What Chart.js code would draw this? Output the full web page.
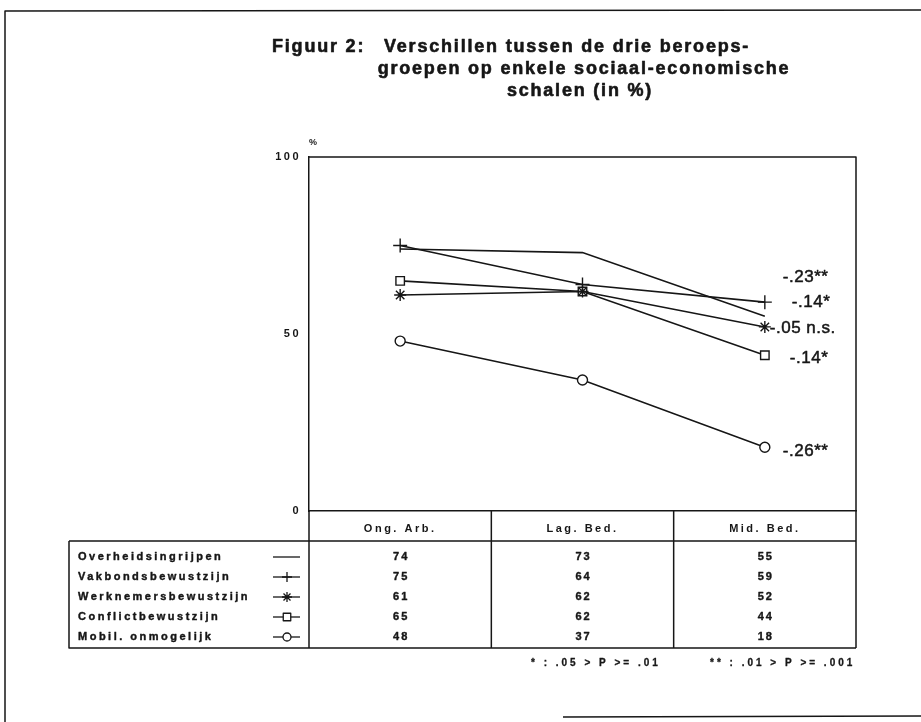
<!DOCTYPE html>
<html>
<head>
<meta charset="utf-8">
<script src="https://cdn.jsdelivr.net/npm/chart.js@4.4.1/dist/chart.umd.min.js"></script>
<style>
  html, body { margin: 0; padding: 0; background: #fff; }
  #wrap { width: 921px; height: 722px; }
</style>
</head>
<body>
<div id="wrap"><canvas id="chart" width="921" height="722"></canvas></div>
<script>
// Data
const categories = ['Ong. Arb.', 'Lag. Bed.', 'Mid. Bed.'];
const seriesNames = ['Overheidsingrijpen', 'Vakbondsbewustzijn', 'Werknemersbewustzijn', 'Conflictbewustzijn', 'Mobil. onmogelijk'];
const overheid = [74, 73, 55];
const vakbond = [75, 64, 59];
const werknemer = [61, 62, 52];
const conflict = [65, 62, 44];
const mobil = [48, 37, 18];
const yTicks = [0, 50, 100];
const coefLabels = ['-.23**', '-.14*', '-.05 n.s.', '-.14*', '-.26**'];
const coefLevels = [66, 59, 51.5, 43, 17];
const titleLines = ['Figuur 2:', 'Verschillen tussen de drie beroeps-', 'groepen op enkele sociaal-economische', 'schalen (in %)'];
const footnotes = ['* : .05 > P >= .01', '** : .01 > P >= .001'];

const allSeries = [overheid, vakbond, werknemer, conflict, mobil];
const markers = [null, 'cross', 'star', 'rect', 'circle'];
const markerSize = { cross: 7, star: 6, rect: 6, circle: 5 };

const ink = '#161616';
const FONT = '"Liberation Sans", Arial, sans-serif';

// x offsets of the coefficient labels from the last point
const coefOffsets = [18, 27, 5, 25, 18];

// text a bit heavier, like the photocopied original
function boldText(ctx, txt, x, y, w) {
    ctx.lineWidth = w;
    ctx.strokeText(txt, x, y);
    ctx.fillText(txt, x, y);
}

// small marker for the legend column
function drawMarker(ctx, style, x, y, r) {
    ctx.save();
    ctx.strokeStyle = ink;
    ctx.fillStyle = '#fff';
    ctx.lineWidth = 1.3;
    ctx.beginPath();
    if (style === 'cross') {
        ctx.moveTo(x - r, y); ctx.lineTo(x + r, y);
        ctx.moveTo(x, y - r); ctx.lineTo(x, y + r);
        ctx.stroke();
    } else if (style === 'star') {
        ctx.moveTo(x - r, y); ctx.lineTo(x + r, y);
        ctx.moveTo(x, y - r); ctx.lineTo(x, y + r);
        const d = r * 0.7;
        ctx.moveTo(x - d, y - d); ctx.lineTo(x + d, y + d);
        ctx.moveTo(x - d, y + d); ctx.lineTo(x + d, y - d);
        ctx.stroke();
    } else if (style === 'rect') {
        ctx.rect(x - r * 0.75, y - r * 0.75, r * 1.5, r * 1.5);
        ctx.fill(); ctx.stroke();
    } else if (style === 'circle') {
        ctx.arc(x, y, r * 0.8, 0, Math.PI * 2);
        ctx.fill(); ctx.stroke();
    }
    ctx.restore();
}

const extras = {
    id: 'extras',
    beforeDraw(chart) {
        chart.ctx.letterSpacing = '2.5px';
    },
    afterDraw(chart) {
        const ctx = chart.ctx;
        const ca = chart.chartArea;
        const xs = chart.scales.x;
        const ys = chart.scales.y;
        ctx.save();
        ctx.strokeStyle = ink;
        ctx.fillStyle = ink;
        ctx.lineJoin = 'round';

        // page frame
        ctx.lineWidth = 1.5;
        ctx.beginPath();
        ctx.moveTo(921, 10); ctx.lineTo(5, 11); ctx.lineTo(5, 722);
        ctx.moveTo(563, 717); ctx.lineTo(921, 716);
        ctx.stroke();

        // top and right sides of the plot box
        ctx.beginPath();
        ctx.moveTo(ca.left, ca.top); ctx.lineTo(ca.right, ca.top); ctx.lineTo(ca.right, ca.bottom);
        ctx.stroke();

        // title
        ctx.letterSpacing = '1.8px';
        ctx.font = 'bold 18px ' + FONT;
        ctx.textBaseline = 'middle';
        ctx.textAlign = 'left';
        boldText(ctx, titleLines[0], 272, 47, 0.6);
        boldText(ctx, titleLines[1], 384, 47, 0.6);
        ctx.textAlign = 'center';
        boldText(ctx, titleLines[2], 584, 69, 0.6);
        boldText(ctx, titleLines[3], 580, 91, 0.6);

        // % unit
        ctx.letterSpacing = '0px';
        ctx.font = 'bold 9px ' + FONT;
        ctx.fillText('%', 313, 143);

        // coefficient labels
        ctx.font = '17px ' + FONT;
        ctx.letterSpacing = '0.5px';
        ctx.textAlign = 'left';
        const lastX = xs.getPixelForValue(categories.length - 1);
        coefLabels.forEach((t, i) => {
            boldText(ctx, t, lastX + coefOffsets[i], ys.getPixelForValue(coefLevels[i]), 0.5);
        });

        // table below the plot
        const tableLeft = 69;
        const headTop = ca.bottom;
        const bodyTop = ca.bottom + 30;
        const rowH = 20;
        const bodyBottom = bodyTop + 6 + rowH * seriesNames.length + 1;
        ctx.lineWidth = 1.5;
        ctx.beginPath();
        ctx.moveTo(tableLeft, bodyTop); ctx.lineTo(ca.right, bodyTop);
        ctx.moveTo(tableLeft, bodyTop); ctx.lineTo(tableLeft, bodyBottom); ctx.lineTo(ca.right, bodyBottom);
        ctx.moveTo(ca.left, headTop); ctx.lineTo(ca.left, bodyBottom);
        ctx.moveTo(ca.right, headTop); ctx.lineTo(ca.right, bodyBottom);
        for (let i = 0; i < categories.length - 1; i++) {
            const xd = (xs.getPixelForValue(i) + xs.getPixelForValue(i + 1)) / 2;
            ctx.moveTo(xd, headTop); ctx.lineTo(xd, bodyBottom);
        }
        ctx.stroke();

        ctx.font = 'bold 11px ' + FONT;
        ctx.textBaseline = 'middle';
        seriesNames.forEach((name, i) => {
            const yy = bodyTop + 6 + rowH * i + rowH / 2;
            ctx.letterSpacing = '2.5px';
            ctx.textAlign = 'left';
            boldText(ctx, name, 78, yy, 0.4);
            // legend sample
            ctx.lineWidth = 1.3;
            ctx.beginPath();
            ctx.moveTo(273, yy); ctx.lineTo(300, yy);
            ctx.stroke();
            if (markers[i]) drawMarker(ctx, markers[i], 287, yy, 5);
            // values
            ctx.letterSpacing = '2px';
            ctx.textAlign = 'center';
            allSeries[i].forEach((v, j) => {
                boldText(ctx, String(v), xs.getPixelForValue(j) + 1, yy, 0.4);
            });
        });

        // footnotes
        ctx.font = 'bold 10px ' + FONT;
        ctx.letterSpacing = '3px';
        ctx.textAlign = 'left';
        boldText(ctx, footnotes[0], 531, 663, 0.3);
        boldText(ctx, footnotes[1], 710, 663, 0.3);

        ctx.restore();
        ctx.letterSpacing = '0px';
    }
};

new Chart(document.getElementById('chart'), {
    type: 'line',
    data: {
        labels: categories,
        datasets: allSeries.map((d, i) => ({
            label: seriesNames[i],
            data: d,
            borderColor: ink,
            backgroundColor: '#fff',
            borderWidth: 1.6,
            pointStyle: markers[i] || 'circle',
            pointRadius: markers[i] ? markerSize[markers[i]] : 0,
            pointBorderWidth: 1.4,
            pointBorderColor: ink,
            pointBackgroundColor: '#fff',
            tension: 0,
            fill: false
        }))
    },
    options: {
        responsive: false,
        animation: false,
        layout: { padding: { left: 269, right: 65, top: 157, bottom: 0 } },
        plugins: {
            legend: { display: false },
            title: { display: false },
            tooltip: { enabled: false }
        },
        scales: {
            x: {
                type: 'category',
                offset: true,
                grid: { display: false, drawTicks: false },
                border: { display: true, color: ink, width: 1.5 },
                ticks: {
                    color: ink,
                    font: { family: FONT, size: 11, weight: 'bold' },
                    padding: 11,
                    maxRotation: 0
                },
                afterFit: s => { s.height = 211; }
            },
            y: {
                min: 0,
                max: 100,
                afterBuildTicks: s => { s.ticks = yTicks.map(v => ({ value: v })); },
                grid: { display: false, drawTicks: false },
                border: { display: true, color: ink, width: 1.5 },
                ticks: {
                    color: ink,
                    font: { family: FONT, size: 11, weight: 'bold' },
                    padding: 8
                },
                afterFit: s => { s.width = 40; }
            }
        }
    },
    plugins: [extras]
});
</script>
</body>
</html>
